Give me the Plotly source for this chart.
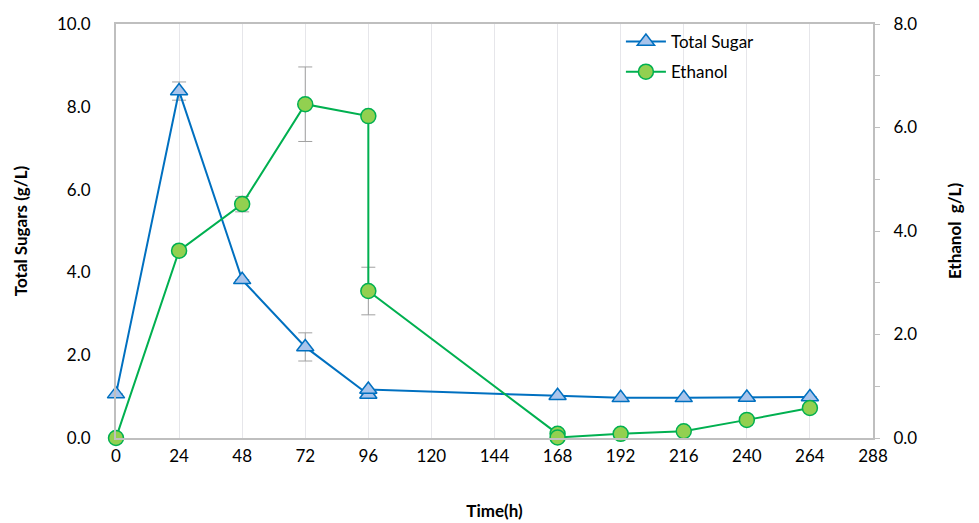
import plotly.graph_objects as go

time_sugar = [0, 24, 48, 72, 96, 96, 168, 192, 216, 240, 264]
sugar = [1.06, 8.38, 3.82, 2.2, 1.05, 1.17, 1.02, 0.97, 0.97, 0.98, 0.99]
sugar_err = [0, 0.22, 0, 0.34, 0, 0, 0, 0, 0, 0, 0]

time_eth = [0, 24, 48, 72, 96, 96, 168, 168, 192, 216, 240, 264]
ethanol = [0.0, 3.62, 4.52, 6.45, 6.22, 2.84, 0.08, 0.01, 0.08, 0.13, 0.35, 0.58]
eth_err = [0, 0, 0.15, 0.72, 0, 0.46, 0, 0, 0, 0, 0, 0]

x_ticks = list(range(0, 289, 24))

font_main = "Lato, Open Sans, Liberation Sans, sans-serif"

fig = go.Figure()
fig.add_trace(go.Scatter(
    x=time_sugar, y=sugar, name="Total Sugar", mode="lines+markers",
    legendgroup="sugar",
    line=dict(color="#0070C0", width=2),
    marker=dict(symbol="triangle-up", size=15, color="#A9C4EB",
                line=dict(color="#0070C0", width=1.5)),
    error_y=dict(type="data", array=sugar_err, visible=True,
                 color="#A0A0A0", thickness=1, width=7),
    cliponaxis=False,
))
fig.add_trace(go.Scatter(
    x=time_eth, y=ethanol, name="Ethanol", mode="lines+markers", yaxis="y2",
    legendgroup="eth",
    line=dict(color="#00B050", width=2),
    marker=dict(symbol="circle", size=15, color="#92D050",
                line=dict(color="#00B050", width=1.5)),
    error_y=dict(type="data", array=eth_err, visible=True,
                 color="#A0A0A0", thickness=1, width=7),
    cliponaxis=False,
))

axis_gray = "#BFBFBF"
fig.update_layout(
    width=979, height=523,
    margin=dict(l=116, r=106, t=24, b=85),
    plot_bgcolor="white", paper_bgcolor="white",
    font=dict(family=font_main, size=17, color="#000000"),
    showlegend=True,
    legend=dict(x=0.667, y=1.0, xanchor="left", yanchor="top",
                bgcolor="rgba(0,0,0,0)", font=dict(size=17),
                tracegroupgap=5, itemwidth=40),
    xaxis=dict(
        range=[0, 288], tickvals=x_ticks, ticktext=[str(v) for v in x_ticks],
        showgrid=True, gridcolor="#E6E6EA", gridwidth=1,
        showline=True, linecolor=axis_gray, linewidth=2, mirror=True,
        ticks="", zeroline=False, ticklabelstandoff=2, automargin=False,
        title=dict(text="<b>Time(h)</b>", font=dict(size=17), standoff=40),
    ),
    yaxis=dict(
        range=[0, 10], dtick=2, tickformat=".1f",
        showgrid=False, zeroline=False, automargin=False,
        showline=True, linecolor=axis_gray, linewidth=2,
        ticks="", ticklabelstandoff=20,
        title=dict(text="<b>Total Sugars (g/L)</b>", font=dict(size=17), standoff=25),
    ),
    yaxis2=dict(
        range=[0, 8], dtick=2, tickformat=".1f", overlaying="y", side="right",
        showgrid=False, zeroline=False, automargin=False,
        showline=True, linecolor=axis_gray, linewidth=2,
        ticks="outside", ticklen=5, tickcolor=axis_gray, ticklabelstandoff=10,
        minor=dict(dtick=1, ticks="outside", ticklen=5, tickcolor=axis_gray),
        title=dict(text="<b>Ethanol  g/L)</b>", font=dict(size=17), standoff=33),
    ),
)

fig.write_html("out.html")
